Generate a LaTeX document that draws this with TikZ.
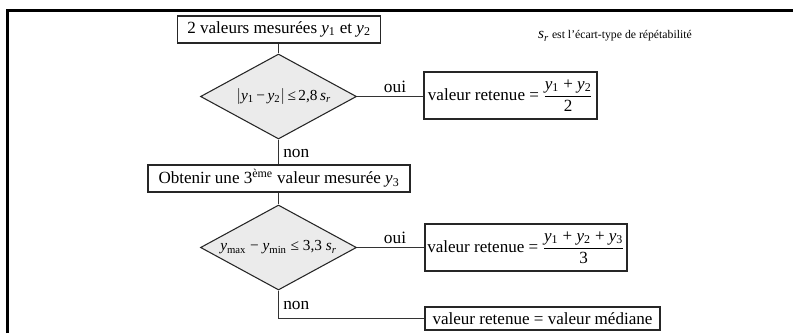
\documentclass[tikz,border=0pt]{standalone}
\usepackage{fontspec}
\setmainfont{Liberation Serif}
\usetikzlibrary{shapes.geometric}
\newcommand\yy[1]{\textit{y}\textsubscript{#1}}
\newcommand\sr{\textit{s}\textsubscript{\textit{r}}}
\tikzset{
  stepbox/.style={draw=black!85, line width=0.8pt, inner sep=0pt, font=\fontsize{12.8}{15}\selectfont},
  test/.style={draw=black!85, line width=0.8pt, fill=black!8, shape=diamond, shape aspect=1.83,
    inner sep=0pt, minimum width=117pt, minimum height=63.75pt, font=\fontsize{11.5}{13}\selectfont},
  conn/.style={draw=black!80, line width=1.1pt},
  lab/.style={font=\fontsize{13}{15}\selectfont, inner sep=0pt}
}
\begin{document}
\begin{tikzpicture}[x=0.75pt,y=-0.75pt]
\useasboundingbox (0,0) rectangle (793,333);
% frame
\draw[line width=2.25pt] (7.5,333) -- (7.5,10.5) -- (793,10.5);
% nodes
\node[stepbox, minimum width=152.25pt, minimum height=20.25pt] (b1) at (279,29.5) {2 valeurs mesurées \yy{1} et \yy{2}};
\node[inner sep=0pt, font=\fontsize{8.8}{11}\selectfont] (note) at (615,36) {{\fontsize{11.5}{13}\selectfont\sr} est l’écart-type de répétabilité};
\node[test] (d1) at (278.5,96.5) {\hspace{8pt}$\bigl|$\yy{1}\,−\,\yy{2}$\bigr|$\,≤\,2,8\,\sr};
\node[stepbox, minimum width=129.75pt, minimum height=35.25pt] (b2) at (510.5,95.5) {valeur retenue = $\displaystyle\frac{\mbox{\yy{1} + \yy{2}}}{\mbox{2}}$};
\node[stepbox, minimum width=196.5pt, minimum height=20.25pt] (b3) at (279,178.5) {Obtenir une 3\textsuperscript{ème} valeur mesurée \yy{3}};
\node[test] (d2) at (278.5,247.5) {\textit{y}\textsubscript{max} − \textit{y}\textsubscript{min} ≤ 3,3 \sr};
\node[stepbox, minimum width=151.5pt, minimum height=35.25pt] (b4) at (526,247.5) {valeur retenue = $\displaystyle\frac{\mbox{\yy{1} + \yy{2} + \yy{3}}}{\mbox{3}}$};
\node[stepbox, minimum width=176.25pt, minimum height=17.25pt] (b5) at (542.5,318.5) {valeur retenue = valeur médiane};
\coordinate (c5) at (278.5,318.5);
% connectors
\draw[conn] (b1.south -| d1.north) -- (d1.north);
\draw[conn] (d1.east) -- (d1.east -| b2.west);
\draw[conn] (d1.south) -- (d1.south |- b3.north);
\draw[conn] (d2.north |- b3.south) -- (d2.north);
\draw[conn] (d2.east) -- (d2.east -| b4.west);
\draw[conn] (d2.south) -- (c5) -- (b5.west);
% labels
\node[lab, anchor=south] (oui1) at (395,93) {oui};
\node[lab, anchor=south] (oui2) at (395,244) {oui};
\node[lab, anchor=west] (non1) at (283,153.5) {non};
\node[lab, anchor=west] (non2) at (283,305) {non};
\end{tikzpicture}
\end{document}
